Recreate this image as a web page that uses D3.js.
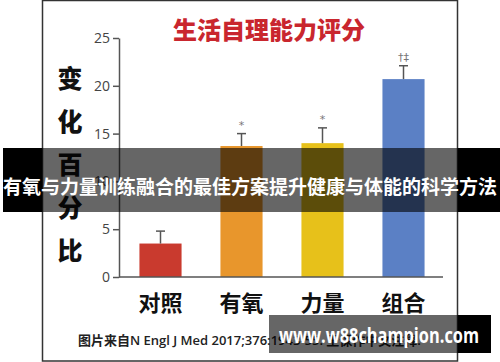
<!DOCTYPE html>
<html>
<head>
<meta charset="utf-8">
<script src="https://cdn.jsdelivr.net/npm/d3@7"></script>
<style>
  body { margin: 0; background: #fff; }
  svg { display: block; }
</style>
</head>
<body>
<svg id="chart" width="500" height="362"></svg>
<script>
// Chart data
var categories = ["对照", "有氧", "力量", "组合"];
var values = [3.5, 13.7, 14.0, 20.7];
var errorTops = [4.8, 15.0, 15.6, 22.1];
var marks = ["", "*", "*", "†‡"];
var colours = ["#c93a2e", "#e8962c", "#e7c11a", "#5b80c5"];
var yTicks = [0, 5, 10, 15, 20, 25];
var yLabel = ["变", "化", "百", "分", "比"];

var cjk = "'Noto Sans CJK SC', 'Noto Sans', sans-serif";

var svg = d3.select("#chart");

// picture frame
svg.append("rect")
  .attr("x", 42.5).attr("y", 0.5)
  .attr("width", 415).attr("height", 360.5)
  .attr("fill", "#fff")
  .attr("stroke", "#333")
  .attr("stroke-width", 1.5);

// title
svg.append("text")
  .attr("x", 269).attr("y", 28)
  .attr("text-anchor", "middle")
  .attr("dominant-baseline", "central")
  .style("font-family", cjk)
  .style("font-weight", 900)
  .style("font-size", "24px")
  .attr("fill", "#c9262e")
  .text("生活自理能力评分");

// scales
var x = d3.scaleBand()
  .domain(categories)
  .range([120, 444])
  .paddingInner(0.48)
  .paddingOuter(0.24);

var y = d3.scaleLinear()
  .domain([0, 25])
  .range([277, 38]);

// bars
svg.selectAll(".bar")
  .data(values)
  .enter().append("rect")
  .attr("class", "bar")
  .attr("x", function(d, i) { return x(categories[i]); })
  .attr("y", function(d) { return y(d); })
  .attr("width", x.bandwidth())
  .attr("height", function(d) { return y(0) - y(d); })
  .attr("fill", function(d, i) { return colours[i]; });

// error bars
var err = svg.selectAll(".err")
  .data(errorTops)
  .enter().append("g")
  .attr("class", "err")
  .attr("stroke", "#555")
  .attr("stroke-width", 1.5);

err.append("line")
  .attr("x1", function(d, i) { return x(categories[i]) + x.bandwidth() / 2; })
  .attr("x2", function(d, i) { return x(categories[i]) + x.bandwidth() / 2; })
  .attr("y1", function(d, i) { return y(values[i]); })
  .attr("y2", function(d) { return y(d); });

err.append("line")
  .attr("x1", function(d, i) { return x(categories[i]) + x.bandwidth() / 2 - 4.5; })
  .attr("x2", function(d, i) { return x(categories[i]) + x.bandwidth() / 2 + 4.5; })
  .attr("y1", function(d) { return y(d); })
  .attr("y2", function(d) { return y(d); });

// significance marks
svg.selectAll(".mark")
  .data(marks)
  .enter().append("text")
  .attr("class", "mark")
  .attr("x", function(d, i) { return x(categories[i]) + x.bandwidth() / 2; })
  .attr("y", function(d, i) { return y(errorTops[i]) - 5; })
  .attr("text-anchor", "middle")
  .style("font-family", "'DejaVu Sans', sans-serif")
  .style("font-size", "11px")
  .attr("fill", "#777")
  .text(function(d) { return d; });

// y axis
var yAxis = svg.append("g")
  .attr("transform", "translate(119,0)")
  .call(d3.axisLeft(y).tickValues(yTicks).tickSize(6).tickSizeOuter(0).tickPadding(3));
yAxis.select(".domain").attr("stroke", "#555").attr("stroke-width", 1.5);
yAxis.selectAll(".tick line").attr("stroke", "#555").attr("stroke-width", 1.5);
yAxis.selectAll(".tick text")
  .attr("fill", "#444")
  .style("font-family", "'Open Sans', sans-serif")
  .style("font-size", "14px");

// x axis line
svg.append("line")
  .attr("x1", 119).attr("x2", 443)
  .attr("y1", y(0)).attr("y2", y(0))
  .attr("stroke", "#555")
  .attr("stroke-width", 1.5);

// category labels
svg.selectAll(".cat")
  .data(categories)
  .enter().append("text")
  .attr("class", "cat")
  .attr("x", function(d) { return x(d) + x.bandwidth() / 2; })
  .attr("y", 301)
  .attr("text-anchor", "middle")
  .attr("dominant-baseline", "central")
  .style("font-family", cjk)
  .style("font-weight", 700)
  .style("font-size", "22px")
  .attr("fill", "#111")
  .text(function(d) { return d; });

// vertical y label
svg.selectAll(".ylab")
  .data(yLabel)
  .enter().append("text")
  .attr("class", "ylab")
  .attr("x", 70)
  .attr("y", function(d, i) { return 77 + i * 43; })
  .attr("text-anchor", "middle")
  .attr("dominant-baseline", "central")
  .style("font-family", cjk)
  .style("font-weight", 900)
  .style("font-size", "25px")
  .attr("fill", "#111")
  .text(function(d) { return d; });

// source note
svg.append("text")
  .attr("x", 78).attr("y", 345)
  .style("font-family", "'Open Sans', " + cjk)
  .style("font-weight", 600)
  .style("font-size", "13px")
  .attr("fill", "#222")
  .text("图片来自N Engl J Med 2017;376:1943-55. 王保作中文注释.");

// banner overlay
svg.append("rect")
  .attr("x", 3).attr("y", 148).attr("width", 39.5).attr("height", 64)
  .attr("fill", "#000");
svg.append("rect")
  .attr("x", 457.5).attr("y", 148).attr("width", 42.5).attr("height", 64)
  .attr("fill", "#000");
svg.append("rect")
  .attr("x", 42.5).attr("y", 148).attr("width", 415).attr("height", 64)
  .attr("fill", "rgba(0,0,0,0.6)");
svg.append("text")
  .attr("x", 250).attr("y", 185)
  .attr("text-anchor", "middle")
  .attr("dominant-baseline", "central")
  .attr("textLength", 494)
  .attr("lengthAdjust", "spacingAndGlyphs")
  .style("font-family", cjk)
  .style("font-weight", 700)
  .style("font-size", "19px")
  .attr("fill", "#fff")
  .text("有氧与力量训练融合的最佳方案提升健康与体能的科学方法");

// watermark
svg.append("rect")
  .attr("x", 269).attr("y", 315).attr("width", 188.5).attr("height", 38)
  .attr("fill", "rgba(0,0,0,0.6)");
svg.append("rect")
  .attr("x", 457.5).attr("y", 315).attr("width", 33.5).attr("height", 38)
  .attr("fill", "#000");
svg.append("text")
  .attr("x", 379).attr("y", 335)
  .attr("text-anchor", "middle")
  .attr("dominant-baseline", "central")
  .attr("textLength", 200)
  .attr("lengthAdjust", "spacingAndGlyphs")
  .style("font-family", "'Open Sans', sans-serif")
  .style("font-weight", 700)
  .style("font-size", "21px")
  .attr("fill", "#fff")
  .text("www.w88champion.com");
</script>
</body>
</html>
